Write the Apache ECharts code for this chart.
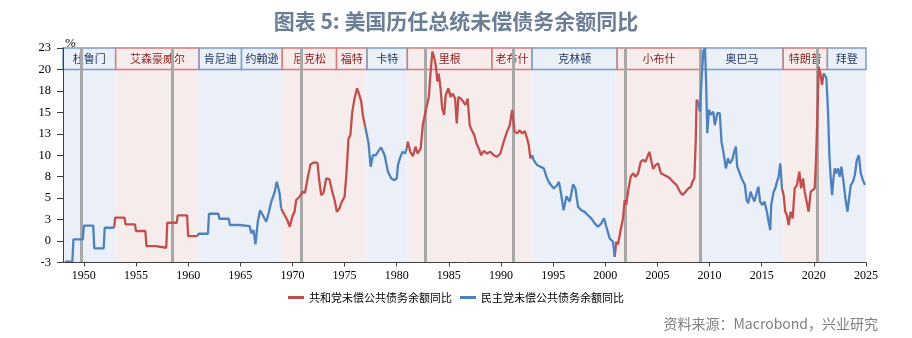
<!DOCTYPE html>
<html>
<head>
<meta charset="utf-8">
<script src="https://cdn.jsdelivr.net/npm/echarts@6/dist/echarts.min.js"></script>
<style>
  html, body { margin: 0; padding: 0; background: #ffffff; }
  #chart { width: 912px; height: 338px; }
</style>
</head>
<body>
<div id="chart"></div>
<script>
// ---- Data: year-over-year growth of US outstanding public debt (%) ----

// Early years are annual readings, drawn as flat steps across each year
const stepYears  = [1948, 1949, 1950, 1951, 1952, 1953, 1954, 1955, 1956, 1957, 1958, 1959, 1960, 1961, 1962, 1963, 1964, 1965];
const stepValues = [-2.4, 0.2, 1.8, -0.85, 1.55, 2.72, 1.95, 1.17, -0.58, -0.78, 2.13, 3.0, 0.58, 0.85, 3.18, 2.6, 1.87, 1.75];
const firstObservation = 1948.2;

// Later years: sub-annual readings
const obsDates = [
  1966.05, 1966.27, 1966.46, 1966.68, 1966.9, 1967.16, 1967.49, 1967.74, 1967.97, 1968.28, 1968.5, 1968.76, 1968.92,
  1969.0, 1969.24, 1969.5, 1969.75, 1969.98, 1970.2, 1970.36, 1970.68, 1971.0, 1971.2, 1971.48, 1971.74, 1972.12, 1972.4,
  1972.54, 1972.76, 1972.98, 1973.24, 1973.55, 1973.78, 1974.04, 1974.26, 1974.5, 1974.74, 1975.0, 1975.16, 1975.38,
  1975.55, 1975.74, 1975.96, 1976.2, 1976.37, 1976.6, 1976.76, 1976.98,
  1977.1, 1977.3, 1977.5, 1977.72, 1978.0, 1978.3, 1978.5, 1978.84, 1979.16, 1979.48, 1979.8, 1980.0, 1980.12, 1980.3,
  1980.55, 1980.8, 1980.97,
  1981.07, 1981.3, 1981.56, 1981.8, 1982.0, 1982.3, 1982.5, 1982.66, 1982.9, 1983.09, 1983.2, 1983.42, 1983.57, 1983.74,
  1983.9, 1984.03, 1984.2, 1984.36, 1984.55, 1984.7, 1984.95, 1985.17, 1985.36, 1985.6, 1985.76, 1985.92, 1986.15,
  1986.4, 1986.6, 1986.8, 1987.0, 1987.2, 1987.44, 1987.64, 1987.86, 1988.1, 1988.34, 1988.66, 1988.98, 1989.3,
  1989.62, 1989.94, 1990.26, 1990.58, 1990.84, 1991.07, 1991.3, 1991.55, 1991.8, 1992.02, 1992.28, 1992.5, 1992.66,
  1992.82, 1992.98,
  1993.14, 1993.46, 1993.78, 1994.1, 1994.36, 1994.58, 1994.8, 1995.06, 1995.38, 1995.55, 1995.73, 1996.0, 1996.27,
  1996.59, 1996.91, 1997.13, 1997.39, 1997.7, 1998.02, 1998.34, 1998.66, 1998.98, 1999.3, 1999.62, 1999.88, 2000.1,
  2000.42, 2000.74, 2000.9,
  2001.06, 2001.22, 2001.47, 2001.7, 2001.86, 2002.0, 2002.18, 2002.44, 2002.66, 2002.9, 2003.15, 2003.4, 2003.62,
  2003.85, 2004.04, 2004.23, 2004.43, 2004.59, 2004.82, 2005.07, 2005.33, 2005.65, 2005.97, 2006.2, 2006.5, 2006.84,
  2007.16, 2007.41, 2007.7, 2007.96, 2008.2, 2008.35, 2008.54, 2008.67, 2008.76, 2008.92,
  2009.08, 2009.24, 2009.4, 2009.56, 2009.66, 2009.78, 2009.94, 2010.13, 2010.36, 2010.5, 2010.74, 2010.98, 2011.15,
  2011.35, 2011.56, 2011.78, 2011.94, 2012.17, 2012.36, 2012.52, 2012.65, 2012.84, 2013.07, 2013.23, 2013.39, 2013.55,
  2013.71, 2013.93, 2014.1, 2014.3, 2014.5, 2014.68, 2014.84, 2015.07, 2015.26, 2015.5, 2015.66, 2015.82, 2015.91,
  2016.14, 2016.3, 2016.46, 2016.62, 2016.78, 2016.94,
  2017.1, 2017.26, 2017.42, 2017.58, 2017.78, 2017.97, 2018.16, 2018.38, 2018.61, 2018.77, 2018.96, 2019.12, 2019.31,
  2019.5, 2019.7, 2019.89, 2020.08, 2020.2, 2020.33, 2020.46, 2020.62, 2020.78, 2020.94,
  2021.08, 2021.2, 2021.36, 2021.49, 2021.62, 2021.75, 2021.88, 2022.0, 2022.13, 2022.32, 2022.48, 2022.64, 2022.8,
  2023.03, 2023.22, 2023.41, 2023.54, 2023.74, 2023.93, 2024.12, 2024.31, 2024.5, 2024.7, 2024.9
];
const obsValues = [
  0.9, 1.28, -0.39, 2.25, 3.6, 3.0, 2.25, 3.35, 4.58, 5.63, 6.92, 5.63, 3.8,
  3.6, 3.03, 2.45, 1.67, 2.83, 3.42, 4.78, 5.17, 5.75, 5.6, 7.5, 8.94, 9.17, 9.1,
  7.38, 5.36, 5.6, 7.3, 7.2, 5.95, 4.78, 3.42, 3.8, 4.58, 5.17, 7.5, 11.97,
  12.3, 15.08, 16.64, 17.8, 17.2, 16.25, 14.6, 13.33,
  13.2, 11.4, 8.67, 10.0, 10.0, 10.6, 10.9, 10.0, 8.08, 7.3, 7.1, 7.3, 8.86, 9.64,
  10.4, 10.2, 10.8,
  11.58, 10.4, 9.9, 11.0, 10.2, 10.8, 13.5, 14.5, 15.86, 16.83, 18.97, 22.08, 21.5, 20.5,
  18.6, 19.5, 17.8, 15.47, 14.7, 17.0, 17.8, 16.8, 17.2, 16.6, 13.7, 16.8, 16.6,
  16.2, 15.86, 16.6, 13.5, 12.9, 12.35, 11.4, 10.8, 10.0, 10.5, 10.2, 10.4, 10.0,
  9.83, 10.2, 11.58, 12.75, 13.5, 15.28, 12.75, 12.55, 12.9, 12.55, 12.8, 11.97, 11.2,
  9.64, 10.0,
  9.44, 8.86, 8.67, 8.47, 7.5, 6.9, 6.5, 6.14, 6.5, 6.9, 5.75, 3.6, 5.2,
  4.6, 6.6, 6.15, 4.0, 3.6, 3.4, 3.0, 2.65, 2.06, 1.67, 2.06, 2.65, 1.67,
  0.31, -0.08, -1.83,
  -0.08, -0.4, 1.28, 2.64, 4.78, 4.2, 5.75, 7.5, 7.9, 7.5, 7.9, 9.25, 9.44,
  9.25, 9.83, 10.4, 9.25, 8.4, 8.86, 9.05, 7.9, 7.7, 7.5, 7.3, 6.9, 6.53,
  5.75, 5.36, 5.75, 6.14, 6.3, 6.9, 7.3, 11.58, 16.44, 16.25,
  15.08, 18.97, 22.08, 22.5, 18.97, 12.56, 15.3, 14.7, 15.08, 13.5, 14.9, 14.9, 11.5,
  10.2, 8.47, 9.64, 9.05, 9.44, 10.4, 11.0, 8.67, 8.08, 7.3, 7.5, 6.53, 4.78,
  4.4, 5.75, 5.17, 4.6, 5.55, 6.33, 4.6, 4.2, 4.6, 3.42, 2.25, 1.28, 4.2,
  5.75, 6.14, 6.9, 7.5, 9.05, 6.14,
  5.36, 3.42, 3.0, 1.87, 3.42, 2.64, 6.14, 6.53, 8.08, 6.14, 7.3, 5.75, 4.6,
  3.42, 5.75, 5.75, 6.14, 9.25, 14.3, 20.3, 19.55, 18.2, 19.55,
  19.4, 19.0, 15.08, 10.0, 7.3, 5.36, 7.3, 8.47, 7.9, 8.47, 7.5, 8.67, 7.3,
  4.97, 3.42, 3.2, 6.53, 6.9, 7.7, 9.44, 10.0, 7.9, 7.1, 6.53
];

// Party in the White House: switch dates, starting with a Democrat
const partySwitches = [1953.0, 1961.0, 1969.0, 1977.0, 1981.0, 1993.0, 2001.0, 2009.0, 2017.0, 2021.0];
const firstParty = 'D';

// President label boxes along the top
const presidentNames = ['杜鲁门', '艾森豪威尔', '肯尼迪', '约翰逊', '尼克松', '福特', '卡特', '里根', '老布什', '克林顿', '小布什', '奥巴马', '特朗普', '拜登'];
const presidentParty = ['D', 'R', 'D', 'D', 'R', 'R', 'D', 'R', 'R', 'D', 'R', 'D', 'R', 'D'];
const presidentEdges = [1948, 1953.05, 1961.05, 1965.12, 1969.03, 1974.23, 1977.16, 1981.02, 1989.14, 1992.98, 2001.14, 2009.14, 2017.06, 2021.3, 2025];

// Recession troughs (vertical grey markers)
const recessionMarks = [1949.73, 1958.45, 1970.88, 1982.71, 1991.13, 2001.87, 2009.07, 2020.3];

// Axis ticks
const xTickYears = [1950, 1955, 1960, 1965, 1970, 1975, 1980, 1985, 1990, 1995, 2000, 2005, 2010, 2015, 2020, 2025];
const xMin = 1948, xMax = 2025;
const yMin = -2.5, yMax = 22.5, yStep = 2.5;

const seriesNames = { R: '共和党未偿公共债务余额同比', D: '民主党未偿公共债务余额同比' };

// ---- Styling ----
const COLORS = {
  R: { line: '#c0504d', band: '#f7ecec', border: '#d27c7c', text: '#8e1c1c' },
  D: { line: '#4f81bd', band: '#ebf0f8', border: '#7b9cc9', text: '#1f3864' }
};

function partyAt(x) {
  let p = firstParty;
  for (const s of partySwitches) {
    if (x >= s) p = (p === 'D' ? 'R' : 'D');
  }
  return p;
}

// Full timeline of points
const points = [];
stepYears.forEach((y, i) => {
  const start = i === 0 ? firstObservation : y;
  points.push([start, stepValues[i]]);
  points.push([y + 0.9, stepValues[i]]);
});
obsDates.forEach((d, i) => points.push([d, obsValues[i]]));

// Split into party series; each new run starts from the previous point so the line stays continuous
const partyData = { R: [], D: [] };
let prevParty = null;
points.forEach((pt, i) => {
  const p = partyAt(pt[0]);
  if (p !== prevParty) {
    if (prevParty) partyData[prevParty].push(null);
    if (i > 0) partyData[p].push(points[i - 1].slice());
  }
  partyData[p].push(pt);
  prevParty = p;
});

// Shaded party bands
const bandEdges = [xMin].concat(partySwitches, [xMax]);
const bands = [];
for (let i = 0; i < bandEdges.length - 1; i++) {
  const p = partyAt((bandEdges[i] + bandEdges[i + 1]) / 2);
  bands.push([{ xAxis: bandEdges[i], itemStyle: { color: COLORS[p].band } }, { xAxis: bandEdges[i + 1] }]);
}

// Name boxes
const boxes = presidentNames.map((name, i) => {
  const c = COLORS[presidentParty[i]];
  return [{
    name: name,
    xAxis: presidentEdges[i], yAxis: yMax,
    itemStyle: { color: c.band, borderColor: c.border, borderWidth: 1.5 },
    label: { color: c.text }
  }, { xAxis: presidentEdges[i + 1], yAxis: 20 }];
});

function roundHalfAway(v) {
  const r = Math.round(Math.abs(v));
  return v < 0 ? -r : r;
}

const chart = echarts.init(document.getElementById('chart'), null, { renderer: 'canvas' });

chart.setOption({
  animation: false,
  backgroundColor: '#ffffff',
  title: {
    text: '图表 5: 美国历任总统未偿债务余额同比',
    left: 'center',
    top: 6,
    textStyle: { fontFamily: 'Noto Sans CJK SC', fontSize: 21, fontWeight: 'bold', color: '#6b7e96' }
  },
  graphic: [{
    type: 'text',
    right: 34,
    top: 317,
    style: { text: '资料来源：Macrobond，兴业研究', font: '14px "Noto Sans CJK SC"', fill: '#7f7f7f' }
  }],
  legend: {
    data: [seriesNames.R, seriesNames.D],
    top: 287,
    left: 'center',
    icon: 'rect',
    itemWidth: 16,
    itemHeight: 3,
    itemGap: 8,
    textStyle: { fontFamily: 'Noto Sans CJK SC', fontSize: 11, color: '#000000' }
  },
  grid: { left: 63, right: 46, top: 48, bottom: 75.5 },
  xAxis: {
    type: 'value',
    min: xMin,
    max: xMax,
    z: 6,
    splitLine: { show: false },
    axisLine: { onZero: false, lineStyle: { color: '#404040', width: 1 } },
    axisTick: { show: true, length: 4, customValues: xTickYears, lineStyle: { color: '#404040' } },
    axisLabel: {
      customValues: xTickYears,
      fontFamily: 'Liberation Serif', fontSize: 12, color: '#000000', margin: 7,
      formatter: v => String(v)
    }
  },
  yAxis: {
    type: 'value',
    min: yMin,
    max: yMax,
    interval: yStep,
    z: 6,
    name: '%',
    nameLocation: 'end',
    nameGap: 1,
    nameTextStyle: { fontFamily: 'Liberation Serif', fontSize: 13, color: '#000000', align: 'left', verticalAlign: 'bottom', padding: [0, 0, -3, 2] },
    splitLine: { show: false },
    axisLine: { show: true, onZero: false, lineStyle: { color: '#404040', width: 1 } },
    axisTick: { show: true, length: 6, lineStyle: { color: '#404040' } },
    axisLabel: {
      fontFamily: 'Liberation Serif', fontSize: 12.5, color: '#000000', margin: 12,
      formatter: v => String(roundHalfAway(v))
    }
  },
  series: [
    {
      name: 'bands', type: 'line', data: [], z: 1, silent: true,
      markArea: { silent: true, data: bands, label: { show: false } }
    },
    {
      name: 'presidents', type: 'line', data: [], z: 2, silent: true,
      markArea: {
        silent: true,
        data: boxes,
        label: { show: true, position: 'inside', fontFamily: 'Noto Sans CJK SC', fontSize: 11 }
      }
    },
    {
      name: 'recessions', type: 'line', data: [], z: 3, silent: true,
      markLine: {
        silent: true,
        symbol: ['none', 'none'],
        label: { show: false },
        lineStyle: { color: '#a8a8a8', width: 3, type: 'solid' },
        data: recessionMarks.map(x => ({ xAxis: x }))
      }
    },
    {
      name: seriesNames.R, type: 'line', data: partyData.R, z: 5,
      showSymbol: false, connectNulls: false,
      color: COLORS.R.line,
      lineStyle: { color: COLORS.R.line, width: 2.3 }
    },
    {
      name: seriesNames.D, type: 'line', data: partyData.D, z: 5,
      showSymbol: false, connectNulls: false,
      color: COLORS.D.line,
      lineStyle: { color: COLORS.D.line, width: 2.3 }
    }
  ]
});
</script>
</body>
</html>
